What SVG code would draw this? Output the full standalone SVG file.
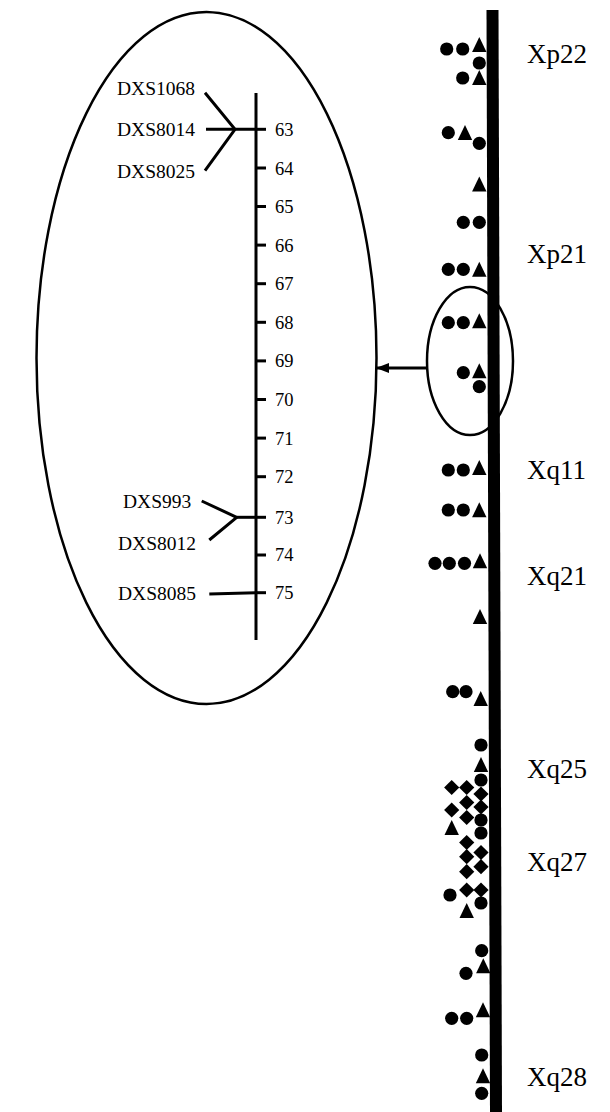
<svg xmlns="http://www.w3.org/2000/svg" xmlns:xlink="http://www.w3.org/1999/xlink" width="610" height="1112" viewBox="0 0 610 1112">
<style>
.band{font-family:"Liberation Serif","Times New Roman",serif;font-size:27px;fill:#000}
.lbl{font-family:"Liberation Serif","Times New Roman",serif;font-size:19.5px;fill:#000}
.num{font-family:"Liberation Serif","Times New Roman",serif;font-size:18.5px;fill:#000}
.ln{stroke:#000;stroke-width:3;fill:none;stroke-linecap:butt}
.ell{stroke:#000;stroke-width:2.5;fill:none}
</style>
<defs>
<circle id="c" r="6.6" fill="#000"/>
<path id="t" d="M-7.2,0 L7.2,0 L0,-15 Z" fill="#000"/>
<path id="d" d="M0,-7.6 L7.6,0 L0,7.6 L-7.6,0 Z" fill="#000"/>
<marker id="ah" markerWidth="13" markerHeight="10" refX="12" refY="5" orient="auto" markerUnits="userSpaceOnUse">
<path d="M0,0 L13,5 L0,10 Z" fill="#000"/>
</marker>
</defs>
<rect width="610" height="1112" fill="#fff"/>

<g id="chromosome">
<polygon points="486.5,10 498.5,10 502,1112 490,1112" fill="#000"/>
</g>

<g id="markers">
<use href="#c" x="446.7" y="49"/><use href="#c" x="462.7" y="49"/><use href="#t" x="479.3" y="52"/>
<use href="#c" x="479.3" y="63"/><use href="#c" x="462.7" y="78"/><use href="#t" x="479.3" y="85"/>
<use href="#c" x="448.3" y="132.7"/><use href="#t" x="465" y="140"/><use href="#c" x="479.3" y="143.3"/>
<use href="#t" x="479.3" y="191.5"/>
<use href="#c" x="463.3" y="222.3"/><use href="#c" x="479.3" y="222.3"/>
<use href="#c" x="448.3" y="269.3"/><use href="#c" x="463.3" y="269.3"/><use href="#t" x="479.3" y="276.7"/>
<use href="#c" x="448.3" y="322.7"/><use href="#c" x="463.3" y="322.7"/><use href="#t" x="479.3" y="328.3"/>
<use href="#c" x="463.3" y="372.7"/><use href="#t" x="479.3" y="378.3"/><use href="#c" x="479.3" y="386.7"/>
<use href="#c" x="448.3" y="470"/><use href="#c" x="463.3" y="470"/><use href="#t" x="479.3" y="475"/>
<use href="#c" x="448.3" y="510"/><use href="#c" x="463.3" y="510"/><use href="#t" x="479.3" y="517.3"/>
<use href="#c" x="435" y="563.3"/><use href="#c" x="449.3" y="563.3"/><use href="#c" x="464.5" y="563.3"/><use href="#t" x="480" y="568.3"/>
<use href="#t" x="480" y="624"/>
<use href="#c" x="452.7" y="691.7"/><use href="#c" x="466" y="691.7"/><use href="#t" x="480.7" y="706"/>
<use href="#c" x="481" y="745"/><use href="#t" x="481" y="772"/>
<use href="#c" x="481" y="780"/>
<use href="#d" x="451.7" y="787.5"/><use href="#d" x="466.7" y="787.5"/>
<use href="#d" x="481" y="794"/>
<use href="#d" x="466.7" y="802.5"/>
<use href="#d" x="451.7" y="810"/>
<use href="#d" x="481" y="807"/>
<use href="#d" x="466.7" y="817.5"/>
<use href="#c" x="481" y="820"/>
<use href="#t" x="451.7" y="835"/>
<use href="#c" x="481" y="833"/>
<use href="#d" x="466.7" y="842.5"/>
<use href="#d" x="481" y="852.5"/>
<use href="#d" x="466.7" y="856.7"/>
<use href="#d" x="481" y="866.7"/>
<use href="#d" x="466.7" y="871.7"/>
<use href="#c" x="450" y="895"/>
<use href="#d" x="466.7" y="890"/>
<use href="#d" x="481" y="890"/>
<use href="#c" x="481" y="903"/>
<use href="#t" x="466.7" y="918"/>
<use href="#c" x="481.7" y="950.7"/>
<use href="#c" x="466" y="973.3"/><use href="#t" x="483.3" y="973.3"/>
<use href="#c" x="451.7" y="1018.3"/><use href="#c" x="466.7" y="1018.3"/><use href="#t" x="483" y="1017.3"/>
<use href="#c" x="481.7" y="1055"/>
<use href="#t" x="483" y="1083.3"/>
<use href="#c" x="481.7" y="1093.3"/>
</g>

<g id="bands">
<text class="band" x="527" y="63">Xp22</text>
<text class="band" x="527" y="263">Xp21</text>
<text class="band" x="527" y="479">Xq11</text>
<text class="band" x="527" y="585">Xq21</text>
<text class="band" x="527" y="778">Xq25</text>
<text class="band" x="527" y="871">Xq27</text>
<text class="band" x="527" y="1086">Xq28</text>
</g>

<g id="region-ellipse">
<ellipse class="ell" cx="470" cy="361" rx="43" ry="74"/>
</g>

<g id="connectors">
<line class="ln" x1="427" y1="368" x2="377" y2="368" stroke-width="2.5" marker-end="url(#ah)"/>
</g>

<g id="inset">
<ellipse class="ell" cx="206.5" cy="358" rx="170" ry="346"/>
<line class="ln" x1="256" y1="93" x2="256" y2="640"/>
<g id="ticks" class="ln">
<line x1="256" y1="129.3" x2="266" y2="129.3"/>
<line x1="256" y1="168" x2="266" y2="168"/>
<line x1="256" y1="206.5" x2="266" y2="206.5"/>
<line x1="256" y1="245.1" x2="266" y2="245.1"/>
<line x1="256" y1="283.7" x2="266" y2="283.7"/>
<line x1="256" y1="322.3" x2="266" y2="322.3"/>
<line x1="256" y1="360.9" x2="266" y2="360.9"/>
<line x1="256" y1="399.5" x2="266" y2="399.5"/>
<line x1="256" y1="438.1" x2="266" y2="438.1"/>
<line x1="256" y1="476.7" x2="266" y2="476.7"/>
<line x1="256" y1="517.3" x2="266" y2="517.3"/>
<line x1="256" y1="555" x2="266" y2="555"/>
<line x1="256" y1="592.7" x2="266" y2="592.7"/>
</g>
<g id="tick-labels">
<text class="num" x="275" y="136">63</text>
<text class="num" x="275" y="175">64</text>
<text class="num" x="275" y="213">65</text>
<text class="num" x="275" y="252">66</text>
<text class="num" x="275" y="290">67</text>
<text class="num" x="275" y="329">68</text>
<text class="num" x="275" y="367">69</text>
<text class="num" x="275" y="406">70</text>
<text class="num" x="275" y="445">71</text>
<text class="num" x="275" y="483">72</text>
<text class="num" x="275" y="524">73</text>
<text class="num" x="275" y="561">74</text>
<text class="num" x="275" y="599">75</text>
</g>
<g id="marker-links" class="ln">
<polyline points="205,92.7 235,129.3 205,170.7"/>
<line x1="206" y1="129.3" x2="256" y2="129.3"/>
<polyline points="201.7,501 236.7,517.3 209.3,540"/>
<line x1="236.7" y1="517.3" x2="256" y2="517.3"/>
<polyline points="209.3,594 256,592.7"/>
</g>
<g id="marker-labels">
<text class="lbl" x="117" y="95">DXS1068</text>
<text class="lbl" x="117" y="136">DXS8014</text>
<text class="lbl" x="117" y="178">DXS8025</text>
<text class="lbl" x="123" y="508">DXS993</text>
<text class="lbl" x="118" y="550">DXS8012</text>
<text class="lbl" x="118" y="600">DXS8085</text>
</g>
</g>
</svg>
